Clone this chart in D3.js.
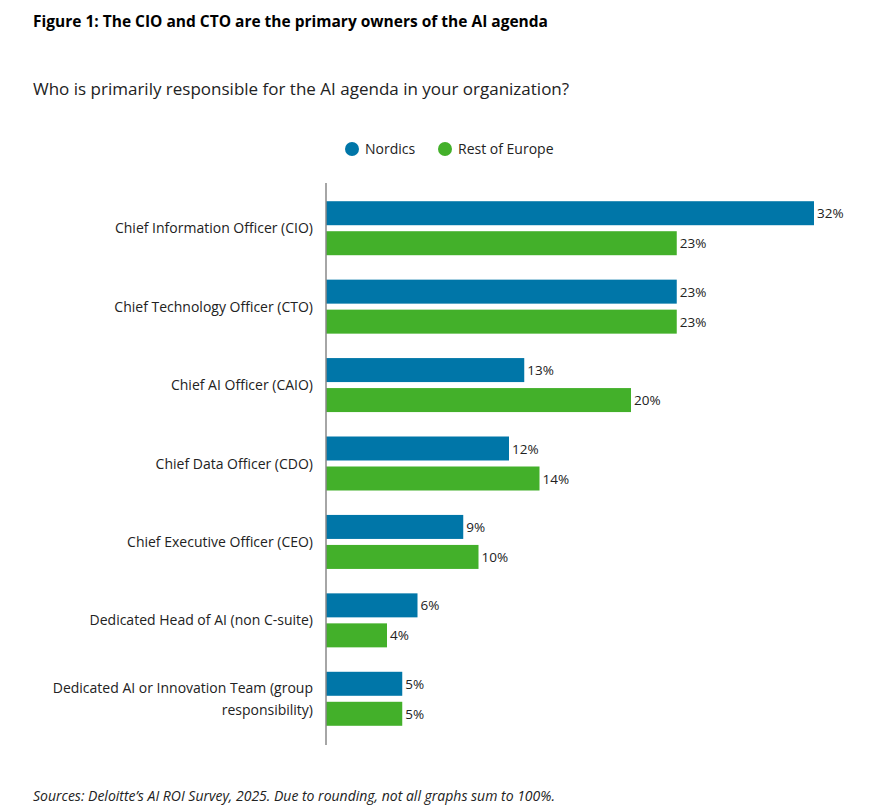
<!DOCTYPE html>
<html><head><meta charset="utf-8">
<script src="https://cdn.jsdelivr.net/npm/d3@7/dist/d3.min.js"></script>
<style>body{margin:0;background:#fff;font-family:"Open Sans",sans-serif}</style>
</head><body><svg width="883" height="812"></svg>
<script>
const categories = ["Chief Information Officer (CIO)","Chief Technology Officer (CTO)","Chief AI Officer (CAIO)","Chief Data Officer (CDO)","Chief Executive Officer (CEO)","Dedicated Head of AI (non C-suite)","Dedicated AI or Innovation Team (group|responsibility)"];
const nordics = [32,23,13,12,9,6,5];
const restOfEurope = [23,23,20,14,10,4,5];
const seriesNames = ["Nordics","Rest of Europe"];
const colors = ["#0076A8","#43B02A"];

const svg = d3.select("svg");
const x = d3.scaleLinear().domain([0,32]).range([326,814]);
const y = d3.scaleBand().domain(categories).range([189,738]);
const barH = 24, gap = 6;

svg.append("text").attr("x",33).attr("y",27).attr("font-weight","bold").attr("font-size",15.5).attr("fill","#000")
  .text("Figure 1: The CIO and CTO are the primary owners of the AI agenda");
svg.append("text").attr("x",33).attr("y",95).attr("font-size",17).attr("fill","#222")
  .text("Who is primarily responsible for the AI agenda in your organization?");

// legend
const lx = [352,445];
seriesNames.forEach((n,i)=>{
  svg.append("circle").attr("cx",lx[i]).attr("cy",149).attr("r",7).attr("fill",colors[i]);
  svg.append("text").attr("x",lx[i]+13).attr("y",154).attr("font-size",14).attr("fill","#222").text(n);
});

const series=[nordics,restOfEurope];
categories.forEach((c,ci)=>{
  const c0 = y(c)+y.bandwidth()/2 - barH - gap/2;
  series.forEach((s,si)=>{
    const yy = c0 + si*(barH+gap);
    svg.append("rect").attr("x",x(0)).attr("y",yy).attr("width",x(s[ci])-x(0)).attr("height",barH).attr("fill",colors[si]);
    svg.append("text").attr("x",x(s[ci])+3).attr("y",yy+17).attr("font-size",13.5).attr("fill","#222").text(s[ci]+"%");
  });
  const lines=c.split("|");
  const cy=y(c)+y.bandwidth()/2;
  lines.forEach((l,li)=>{
    svg.append("text").attr("x",313).attr("y",cy+5+(li-(lines.length-1)/2)*22).attr("text-anchor","end")
      .attr("font-size",14).attr("fill","#222").text(l);
  });
});
svg.append("line").attr("x1",326).attr("x2",326).attr("y1",183).attr("y2",745).attr("stroke","#888").attr("stroke-width",1.5);

svg.append("text").attr("x",33).attr("y",801).attr("font-style","italic").attr("font-size",14).attr("fill","#222")
  .text("Sources: Deloitte’s AI ROI Survey, 2025. Due to rounding, not all graphs sum to 100%.");
</script></body></html>
